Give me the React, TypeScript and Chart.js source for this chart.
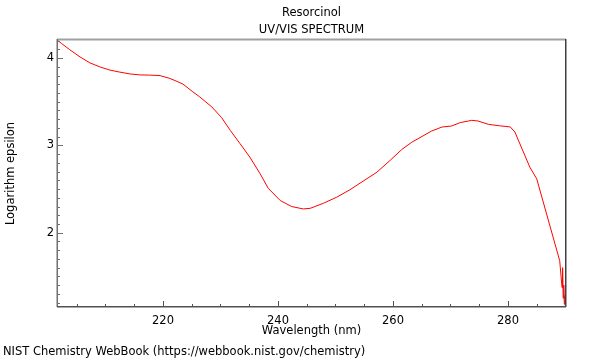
import React, { useEffect, useRef } from 'react';
import { Chart, registerables } from 'chart.js';

Chart.register(...registerables);

const titleText = 'Resorcinol';
const subtitleText = 'UV/VIS SPECTRUM';
const xAxisTitle = 'Wavelength (nm)';
const yAxisTitle = 'Logarithm epsilon';
const footerText = 'NIST Chemistry WebBook (https://webbook.nist.gov/chemistry)';

const wavelength = [
  201.6, 202.4, 203.8, 205.6, 207.3, 209.1, 210.8, 212.5, 214.3, 216.0,
  217.7, 219.5, 221.2, 222.6, 223.5, 225.2, 226.4, 228.5, 230.2, 231.7,
  233.4, 235.1, 236.9, 238.3, 240.4, 242.4, 244.4, 245.6, 247.9, 250.2,
  252.5, 254.8, 257.2, 259.5, 261.5, 263.3, 264.7, 266.7, 268.5, 270.2,
  271.7, 273.1, 273.7, 274.8, 276.6, 278.5, 280.4, 281.2, 281.8, 283.8,
  285.0, 289.0, 289.4, 289.5, 289.6, 289.7, 289.8, 289.9, 290.0,
];
const logEpsilon = [
  4.207, 4.165, 4.095, 4.012, 3.945, 3.897, 3.862, 3.839, 3.818, 3.807,
  3.805, 3.799, 3.767, 3.728, 3.701, 3.613, 3.555, 3.440, 3.318, 3.172,
  3.020, 2.866, 2.675, 2.509, 2.368, 2.299, 2.272, 2.279, 2.337, 2.406,
  2.491, 2.590, 2.693, 2.828, 2.951, 3.038, 3.089, 3.164, 3.210, 3.222,
  3.261, 3.279, 3.287, 3.279, 3.241, 3.225, 3.211, 3.153, 3.060, 2.751,
  2.617, 1.678, 1.371, 1.600, 1.250, 1.400, 1.180, 1.280, 1.140,
];

const xTickLabels = [220, 240, 260, 280];
const yTickLabels = [2, 3, 4];

const X_MIN = 201.57;
const X_MAX = 290.09;
const Y_MIN = 1.149;
const Y_MAX = 4.207;
const X_MINOR = 5;
const Y_MINOR = 0.1;

const FONT = '"DejaVu Sans", sans-serif';
const TEXT_SIZE = 11.5;

const decorPlugin = {
  id: 'decor',
  afterDraw(chart: any) {
    const { ctx, chartArea, scales } = chart;
    const { left, right, top, bottom } = chartArea;
    const xs = scales.x;
    const ys = scales.y;
    ctx.save();
    // frame
    ctx.lineCap = 'butt';
    ctx.strokeStyle = '#a0a0a0';
    ctx.lineWidth = 2;
    ctx.beginPath();
    ctx.moveTo(left, top - 0.5);
    ctx.lineTo(right, top - 0.5);
    ctx.stroke();
    ctx.strokeStyle = '#404040';
    ctx.lineWidth = 1.5;
    ctx.beginPath();
    ctx.moveTo(right - 0.25, top - 1);
    ctx.lineTo(right - 0.25, bottom);
    ctx.stroke();
    ctx.strokeStyle = '#707070';
    ctx.lineWidth = 1.5;
    ctx.beginPath();
    ctx.moveTo(left + 0.25, top - 1);
    ctx.lineTo(left + 0.25, bottom);
    ctx.stroke();
    ctx.strokeStyle = '#505050';
    ctx.beginPath();
    ctx.moveTo(left, bottom - 0.25);
    ctx.lineTo(right, bottom - 0.25);
    ctx.stroke();

    // ticks
    ctx.lineWidth = 1;
    ctx.strokeStyle = '#505050';
    const x0 = Math.ceil(X_MIN / X_MINOR);
    const x1 = Math.floor(X_MAX / X_MINOR);
    for (let i = x0; i <= x1; i++) {
      const v = i * X_MINOR;
      const px = Math.round(xs.getPixelForValue(v)) + 0.5;
      const major = xTickLabels.includes(v);
      ctx.beginPath();
      ctx.moveTo(px, bottom);
      ctx.lineTo(px, bottom - (major ? 6 : 3));
      ctx.stroke();
    }
    ctx.strokeStyle = '#707070';
    const y0 = Math.ceil(Y_MIN / Y_MINOR);
    const y1 = Math.floor(Y_MAX / Y_MINOR);
    for (let i = y0; i <= y1; i++) {
      const v = i * Y_MINOR;
      const py = Math.round(ys.getPixelForValue(v)) + 0.5;
      const major = i % 10 === 0;
      ctx.beginPath();
      ctx.moveTo(left, py);
      ctx.lineTo(left + (major ? 6 : 3), py);
      ctx.stroke();
    }

    // texts
    const cx = (left + right) / 2;
    ctx.fillStyle = '#000';
    ctx.font = `${TEXT_SIZE}px ${FONT}`;
    ctx.textAlign = 'center';
    ctx.textBaseline = 'middle';
    ctx.fillText(titleText, cx, 13);
    ctx.fillText(subtitleText, cx, 30);
    ctx.fillText(xAxisTitle, cx, 331);
    ctx.save();
    ctx.translate(11, (top + bottom) / 2);
    ctx.rotate(-Math.PI / 2);
    ctx.fillText(yAxisTitle, 0, 0);
    ctx.restore();
    ctx.textAlign = 'left';
    ctx.fillText(footerText, 3, 352);
    ctx.restore();
  },
};

export default function App() {
  const canvasRef = useRef<HTMLCanvasElement>(null);

  useEffect(() => {
    const canvas = canvasRef.current;
    if (!canvas) return;
    const points = wavelength.map((w, i) => ({ x: w, y: logEpsilon[i] }));
    const chart = new Chart(canvas, {
      type: 'line',
      data: {
        datasets: [
          {
            data: points,
            borderColor: '#ff0000',
            borderWidth: 1,
            pointRadius: 0,
            fill: false,
            tension: 0,
          },
        ],
      },
      options: {
        animation: false,
        responsive: false,
        devicePixelRatio: 1,
        layout: { padding: { top: 40, right: 34, left: 0, bottom: 0 } },
        plugins: {
          legend: { display: false },
          tooltip: { enabled: false },
          title: { display: false },
        },
        scales: {
          x: {
            type: 'linear',
            min: X_MIN,
            max: X_MAX,
            grid: { display: false, drawTicks: false },
            border: { display: false },
            ticks: {
              color: '#000',
              font: { family: FONT, size: TEXT_SIZE },
              padding: 7,
              maxRotation: 0,
              autoSkip: false,
            },
            afterBuildTicks: (scale: any) => {
              scale.ticks = xTickLabels.map((v) => ({ value: v }));
            },
            afterFit: (scale: any) => {
              scale.height = 53;
            },
          },
          y: {
            type: 'linear',
            min: Y_MIN,
            max: Y_MAX,
            grid: { display: false, drawTicks: false },
            border: { display: false },
            ticks: {
              color: '#000',
              font: { family: FONT, size: TEXT_SIZE },
              padding: 3,
              autoSkip: false,
            },
            afterBuildTicks: (scale: any) => {
              scale.ticks = yTickLabels.map((v) => ({ value: v }));
            },
            afterFit: (scale: any) => {
              scale.width = 57;
            },
          },
        },
      },
      plugins: [decorPlugin],
    });
    return () => chart.destroy();
  }, []);

  return (
    <div style={{ position: 'absolute', left: 0, top: 0, width: 600, height: 360, background: '#fff' }}>
      <canvas ref={canvasRef} width={600} height={360} style={{ width: 600, height: 360 }} />
    </div>
  );
}
